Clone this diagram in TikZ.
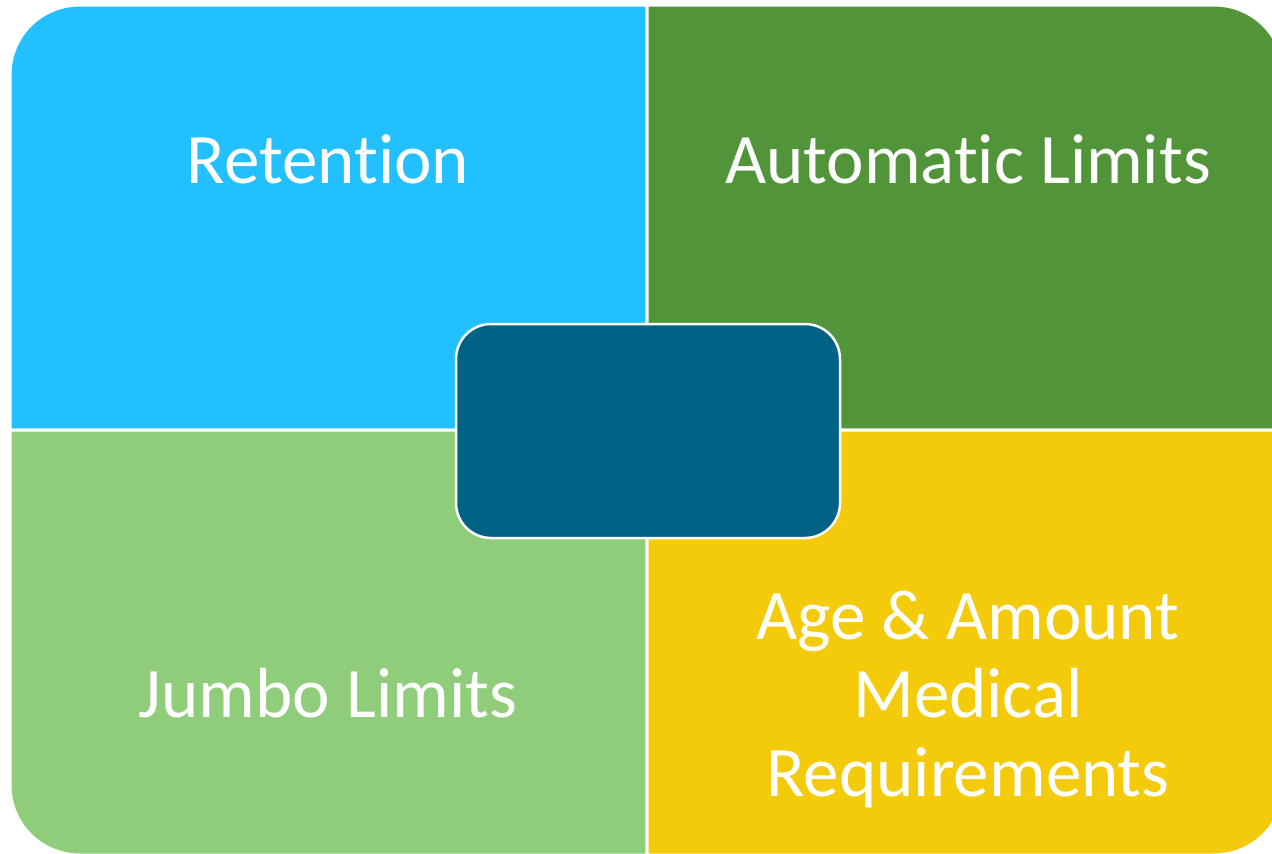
\documentclass[tikz,border=0pt]{standalone}
\usepackage{fontspec}
\setmainfont[Ligatures=NoCommon]{Carlito}

\definecolor{retblue}{HTML}{22C0FF}
\definecolor{autogreen}{HTML}{52943A}
\definecolor{jumbogreen}{HTML}{8FCD7A}
\definecolor{ageyellow}{HTML}{F3CB0A}
\definecolor{hubteal}{HTML}{006285}

\tikzset{
  quad/.style={draw=white,line width=3pt},
  quadtext/.style={text=white,align=center,inner sep=0pt,anchor=base,
    font=\fontsize{71}{78.5}\selectfont},
  hub/.style={draw=white,line width=2.5pt,fill=hubteal,rounded corners=35pt,
    minimum width=384pt,minimum height=214pt}
}

\begin{document}
\begin{tikzpicture}[x=1pt,y=-1pt]
\useasboundingbox (0,0) rectangle (1272,854);
\clip (0,0) rectangle (1272,854);
\fill[white] (0,0) rectangle (1272,854);

  % four quadrants
  \draw[quad,fill=retblue] (10,430) -- (10,75) .. controls (10,36) and (41,5) .. (80,5) -- (647,5) -- (647,430) -- cycle;
  \draw[quad,fill=autogreen] (647,430) -- (647,5) -- (1214,5) .. controls (1253,5) and (1284,36) .. (1284,75) -- (1284,430) -- cycle;
  \draw[quad,fill=jumbogreen] (10,430) -- (647,430) -- (647,855) -- (80,855) .. controls (41,855) and (10,824) .. (10,785) -- cycle;
  \draw[quad,fill=ageyellow] (647,430) -- (1284,430) -- (1284,785) .. controls (1284,824) and (1253,855) .. (1214,855) -- (647,855) -- cycle;

  \node[quadtext] (retention) at (328,183) {Retention};
  \node[quadtext] (automatic) at (968,183) {Automatic Limits};
  \node[quadtext] (jumbo) at (328,717) {Jumbo Limits};
  % base anchor sits on the last line here
  \node[quadtext] (ageamount) at (968,796) {Age \& Amount\\Medical\\Requirements};

  % centre box
  \node[hub] (centre) at (648,431) {};
\end{tikzpicture}
\end{document}
